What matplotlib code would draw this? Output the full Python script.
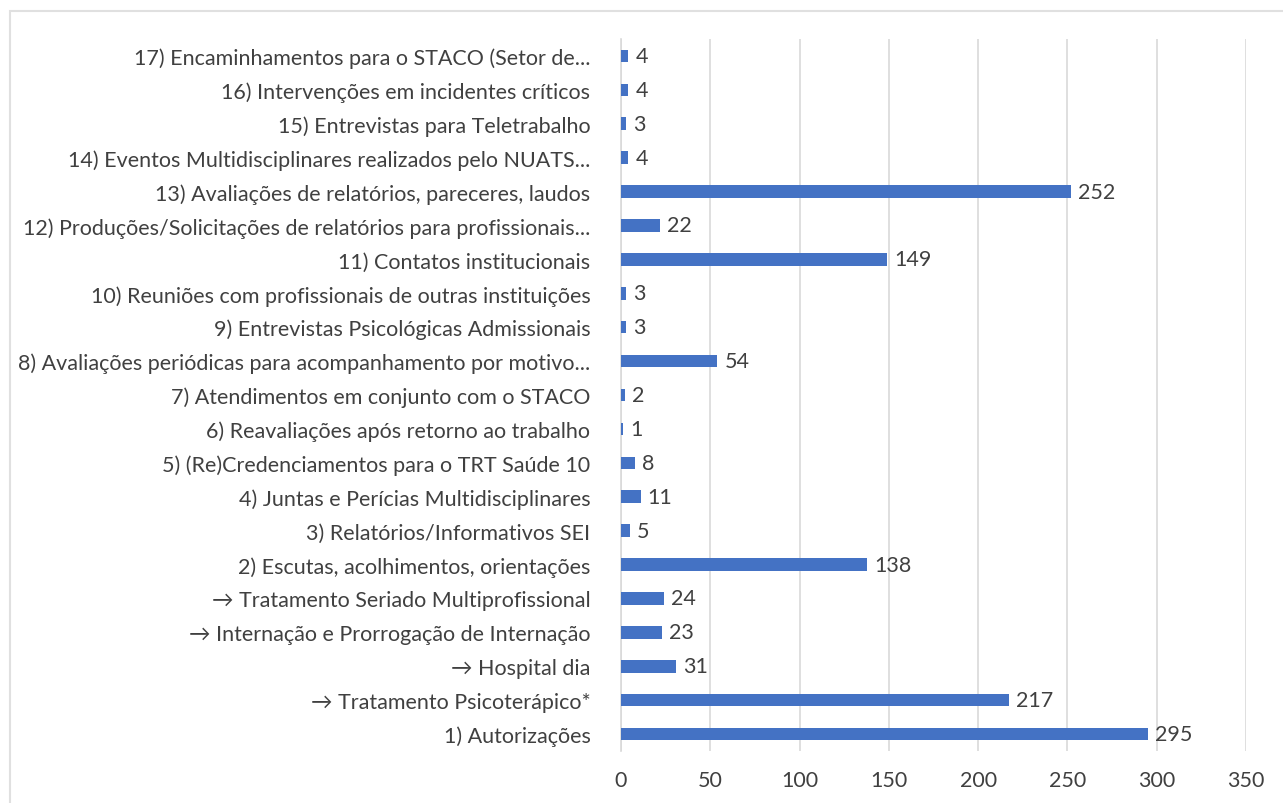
import matplotlib
matplotlib.use("Agg")
import matplotlib.pyplot as plt
from matplotlib.patches import Rectangle

plt.rcParams['font.family'] = ['Lato', 'DejaVu Sans']

labels = [
    "1) Autorizações",
    "→ Tratamento Psicoterápico*",
    "→ Hospital dia",
    "→ Internação e Prorrogação de Internação",
    "→ Tratamento Seriado Multiprofissional",
    "2) Escutas, acolhimentos, orientações",
    "3) Relatórios/Informativos SEI",
    "4) Juntas e Perícias Multidisciplinares",
    "5) (Re)Credenciamentos para o TRT Saúde 10",
    "6) Reavaliações após retorno ao trabalho",
    "7) Atendimentos em conjunto com o STACO",
    "8) Avaliações periódicas para acompanhamento por motivo...",
    "9) Entrevistas Psicológicas Admissionais",
    "10) Reuniões com profissionais de outras instituições",
    "11) Contatos institucionais",
    "12) Produções/Solicitações de relatórios para profissionais...",
    "13) Avaliações de relatórios, pareceres, laudos",
    "14) Eventos Multidisciplinares realizados pelo NUATS...",
    "15) Entrevistas para Teletrabalho",
    "16) Intervenções em incidentes críticos",
    "17) Encaminhamentos para o STACO (Setor de...",
]
values = [295, 217, 31, 23, 24, 138, 5, 11, 8, 1, 2, 54, 3, 3, 149, 22, 252, 4, 3, 4, 4]
xticks = [0, 50, 100, 150, 200, 250, 300, 350]

text_color = "#404040"
bar_color = "#4472C4"

fig = plt.figure(figsize=(12.83, 8.04), dpi=100)
ax = fig.add_axes([621 / 1283, 52 / 804, 625 / 1283, 712 / 804])

ypos = list(range(len(values)))
bars = ax.barh(ypos, values, height=0.37, color=bar_color, zorder=3)

for b, v in zip(bars, values):
    ax.text(b.get_width() + 4, b.get_y() + b.get_height() / 2, str(v),
            va="center", ha="left", fontsize=15.5, color=text_color, zorder=4)

ax.set_xlim(0, 350)
ax.set_ylim(-0.5, len(values) - 0.5)
ax.set_xticks(xticks)
ax.set_xticklabels([str(t) for t in xticks], fontsize=15.5, color=text_color)
ax.set_yticks(ypos)
ax.set_yticklabels(labels, fontsize=15.5, color=text_color)
ax.tick_params(axis="both", length=0)
ax.tick_params(axis="y", pad=22)
ax.tick_params(axis="x", pad=14)

ax.grid(axis="x", color="#d9d9d9", linewidth=1.2, zorder=0)
for s in ["top", "right", "bottom"]:
    ax.spines[s].set_visible(False)
ax.spines["left"].set_color("#d9d9d9")
ax.spines["left"].set_linewidth(1.2)

# light border around the chart area
fig.patches.append(Rectangle((10 / 1283, -0.1), 1.2, 1.1 - 12 / 804,
                             transform=fig.transFigure, fill=False,
                             edgecolor="#e0e0e0", linewidth=1.5))

fig.savefig("out.png", dpi=100)
